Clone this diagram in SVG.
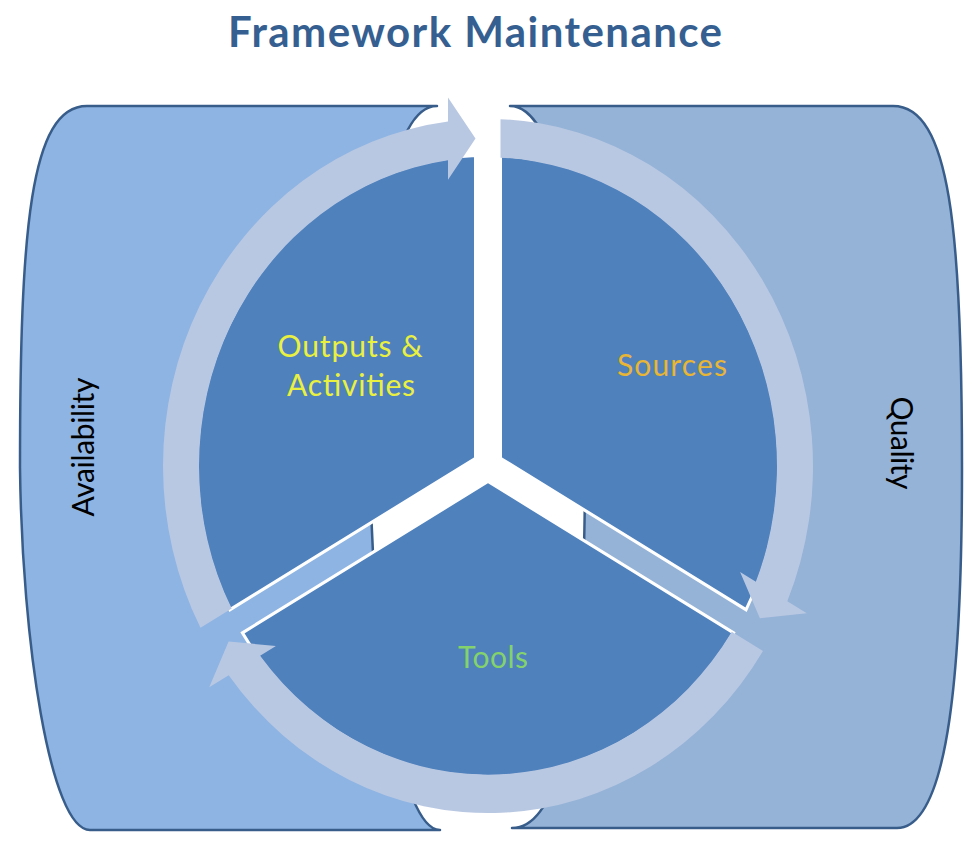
<svg xmlns="http://www.w3.org/2000/svg" width="975" height="847" viewBox="0 0 975 847">
<style>
.cyl{stroke:#385D8A;stroke-width:2.5;stroke-linejoin:round}
.seg{fill:#4F81BD;stroke:#FFFFFF;stroke-width:3;stroke-linejoin:miter}
.ring{fill:#B9C8E2;stroke:none}
.lbl{font-family:Lato,"Open Sans","Liberation Sans",sans-serif;font-size:30px;text-anchor:middle}
.side{font-family:Lato,"Open Sans","Liberation Sans",sans-serif;font-size:30px;text-anchor:middle;fill:#000000}
.title{font-family:Lato,"Liberation Sans",sans-serif;font-size:42px;font-weight:bold;text-anchor:middle;fill:#365F91}
</style>
<rect x="0" y="0" width="975" height="847" fill="#FFFFFF"/>
<g id="title"><text class="title" x="475" y="47" textLength="494">Framework Maintenance</text></g>
<g id="cyl-availability">
<path class="cyl" fill="#8EB4E3" d="M 87 106 L 437 106 C 392 106 370 240 370 468 C 372 640 400 830 440 830 L 90 830 C 50 830 22 640 20 468 C 20 230 30 106 87 106 Z"/>
<text class="side" transform="translate(94,447) rotate(-90)" textLength="139">Availability</text>
</g>
<g id="cyl-quality">
<path class="cyl" fill="#95B3D7" d="M 510 106 L 893 106 C 950 106 962 230 962 468 C 962 660 950 828 897 828 L 512 828 C 570 828 585 660 585 468 C 585 240 555 106 510 106 Z"/>
<text class="side" transform="translate(891,443) rotate(90)" textLength="93">Quality</text>
</g>
<g transform="translate(488,466) scale(1,1.068)">
<g id="seg-outputs"><path class="seg" d="M -12.5 -7.2 L -258.03 134.54 A 291 291 0 0 1 -12.5 -290.73 Z"/></g>
<g id="seg-sources"><path class="seg" d="M 12.5 -7.2 L 12.5 -290.73 A 291 291 0 0 1 258.03 134.54 Z"/></g>
<g id="seg-tools"><path class="seg" d="M 0 14.43 L 245.53 156.2 A 291 291 0 0 1 -245.53 156.2 Z"/></g>
<g id="connectors">
<path class="ring" d="M -256.29 133.54 L -287.49 151.55 A 325 325 0 0 1 -40 -322.53 L -40 -345 L -12.5 -306.75 L -40 -268 L -40 -286.22 A 289 289 0 0 0 -256.29 133.54 Z"/>
<path class="ring" d="M 12.5 -288.73 L 12.5 -324.76 A 325 325 0 0 1 299.31 126.63 L 318.77 137.86 L 271.9 142.55 L 252.09 99.36 L 267.87 108.47 A 289 289 0 0 0 12.5 -288.73 Z"/>
<path class="ring" d="M 243.79 155.2 L 274.99 173.21 A 325 325 0 0 1 -259.31 195.91 L -278.77 207.14 L -259.4 164.21 L -212.09 168.64 L -227.87 177.75 A 289 289 0 0 0 243.79 155.2 Z"/>
</g>
</g>
<g id="labels">
<text class="lbl" x="350" y="357" fill="#EAF040" textLength="145">Outputs &amp;</text>
<text class="lbl" x="351" y="396" fill="#EAF040" textLength="128">Activities</text>
<text class="lbl" x="672" y="376" fill="#E8B534" textLength="110">Sources</text>
<text class="lbl" x="493" y="668" fill="#84D26C" textLength="70">Tools</text>
</g>
</svg>
